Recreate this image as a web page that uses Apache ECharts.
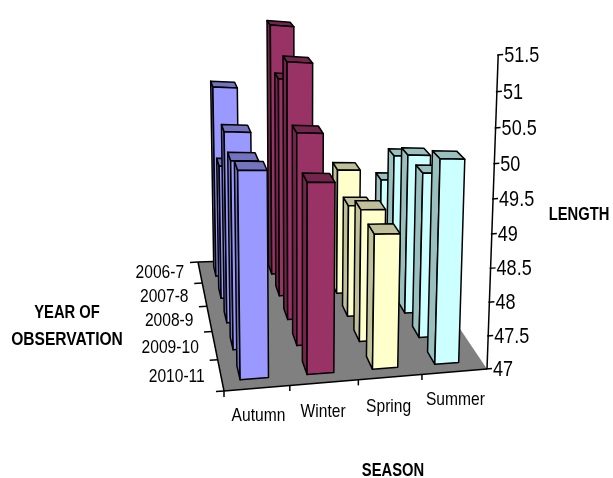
<!DOCTYPE html>
<html><head><meta charset="utf-8">
<style>html,body{margin:0;background:#fff}#c{width:613px;height:478px}</style>
<script src="https://cdn.jsdelivr.net/npm/echarts@6/dist/echarts.min.js"></script>
</head><body><div id="c"></div>
<script>
const seasons=['Autumn','Winter','Spring','Summer'];
const years=['2006-7','2007-8','2008-9','2009-10','2010-11'];
const lengthTicks=[47,47.5,48,48.5,49,49.5,50,50.5,51,51.5];
// Mean length per season, one value per year of observation
const autumn=[50.02,49.05,49.8,49.65,49.79];
const winter=[51.03,50.39,50.83,50.05,49.64];
const spring=[48.1,49.01,48.73,48.97,48.93];
const summer=[48.58,49.25,49.52,49.51,49.98];
const seriesValues=[autumn,winter,spring,summer];
const palette=[['#9999FF','#7373BF'],['#993366','#73264D'],['#FFFFCC','#BFBF99'],['#CCFFFF','#99BFBF']];

// Floor corners and the vertical vanishing point of the 3D view
const FL=[224,391],FR=[487,369],BR=[411,256],BL=[198,262],VP=[301,5584];
function H(u,v){
 const dx1=FR[0]-BR[0],dx2=BL[0]-BR[0],sx=FL[0]-FR[0]+BR[0]-BL[0];
 const dy1=FR[1]-BR[1],dy2=BL[1]-BR[1],sy=FL[1]-FR[1]+BR[1]-BL[1];
 const det=dx1*dy2-dx2*dy1,g=(sx*dy2-dx2*sy)/det,h=(dx1*sy-sx*dy1)/det;
 const a=FR[0]-FL[0]+g*FR[0],b=BL[0]-FL[0]+h*BL[0],d=FR[1]-FL[1]+g*FR[1],e=BL[1]-FL[1]+h*BL[1];
 return [a*u+b*v+FL[0],d*u+e*v+FL[1],g*u+h*v+1];
}
const c0=H(1,0);
const K=(55*c0[2]-c0[1])/(4.5*(VP[1]-55));
// Projects floor position (u,v) and height above the floor to the canvas
function P(u,v,h){const p=H(u,v);const w=p[2]+K*h;return [(p[0]+K*h*VP[0])/w,(p[1]+K*h*VP[1])/w];}

// Bar footprint inside its cell, and small per-season shifts along the front edge
const F0=.25,F1=.65,D0=.3,D1=.75;
const slotShift=[0,-.04,-.045,-.04];
const seasonLabelShift=[[-1,1],[-6,2.5],[-6,3],[-1,1]];
const seasonTickShift=[0,-6,-5,-5];

// Back rows first, right to left, so nearer bars paint over farther ones
const rows=[];
for(let r=0;r<5;r++)for(let c=3;c>=0;c--)rows.push([c,seriesValues[c][r],r]);

const FONT='"Liberation Sans"';
const SX=.82;
function lineEl(a,b){return {type:'line',shape:{x1:a[0],y1:a[1],x2:b[0],y2:b[1]},style:{stroke:'#000',lineWidth:1.5}};}
function textEl(t,x,y,align,size,bold){return {type:'text',x:x,y:y,scaleX:SX,style:{text:t,x:0,y:0,align:align,verticalAlign:'middle',fill:'#000',font:(bold?'bold ':'')+size+'px '+FONT}};}
function frame(){
 const e=[];
 e.push({type:'polygon',shape:{points:[P(0,0,0),P(1,0,0),P(1,1,0),P(0,1,0)]},style:{fill:'#808080'}});
 e.push(lineEl(P(0,0,0),P(0,1,0)),lineEl(P(0,0,0),P(1,0,0)),lineEl(P(1,0,0),P(1,0,4.5)),lineEl(P(0,1,0),P(.1,1,0)));
 for(let i=0;i<=5;i++){const p=P(0,i/5,0);e.push(lineEl([p[0]-8,p[1]+.5],p));}
 for(let i=0;i<=3;i++){const p=P(i/4,0,0);const x=p[0]+seasonTickShift[i];e.push(lineEl([x,p[1]+.4*Math.abs(seasonTickShift[i])/5],[x,p[1]+6]));}
 lengthTicks.forEach(t=>{const p=P(1,0,t-47);e.push(lineEl([p[0]-1,p[1]],[p[0]+5,p[1]-.5]),textEl(String(t),p[0]+6,p[1]+1,'left',22));});
 years.forEach((y,i)=>{const p=P(0,(4-i+.5)/5,0);e.push(textEl(y,p[0]-16,p[1]+(i?2:.5),'right',19));});
 seasons.forEach((n,i)=>{const p=P((i+.5)/4,0,0);e.push(textEl(n,p[0]-1+seasonLabelShift[i][0],p[1]+27+seasonLabelShift[i][1],'center',19));});
 e.push(textEl('YEAR OF',67,313,'center',18,true),textEl('OBSERVATION',67,340,'center',19,true),textEl('LENGTH',579,215,'center',18,true),textEl('SEASON',393,471,'center',18,true));
 return {type:'group',children:e};
}
const chart=echarts.init(document.getElementById('c'),null,{renderer:'canvas'});
chart.setOption({animation:false,
 grid:{left:0,top:0,width:613,height:478},
 xAxis:{type:'value',min:0,max:4,show:false},
 yAxis:{type:'value',min:47,max:51.5,show:false},
 series:[
  {type:'custom',coordinateSystem:'none',z:1,silent:true,data:[[0]],renderItem:()=>frame()},
  {type:'custom',coordinateSystem:'cartesian2d',z:2,silent:true,clip:false,encode:{x:0,y:1},data:rows,
   renderItem:(params,api)=>{
    const c=api.value(0),val=api.value(1),r=api.value(2);
    const ux0=api.coord([c+slotShift[c]+F0,47])[0]/613,ux1=api.coord([c+slotShift[c]+F1,47])[0]/613;
    const h=(478-api.coord([0,val])[1])/478*4.5;
    const v0=(4-r+D0)/5,v1=(4-r+D1)/5;
    const col=palette[c];
    const st=(f)=>({fill:f,stroke:'#000',lineWidth:1.5,lineJoin:'round'});
    const A=P(ux0,v0,0),B=P(ux1,v0,0),C=P(ux1,v0,h),D=P(ux0,v0,h),E=P(ux0,v1,0),G=P(ux0,v1,h),I=P(ux1,v1,h);
    return {type:'group',children:[
     {type:'polygon',shape:{points:[E,A,D,G]},style:st(col[1])},
     {type:'polygon',shape:{points:[G,D,C,I]},style:st(col[1])},
     {type:'polygon',shape:{points:[A,B,C,D]},style:st(col[0])}
    ]};
   }}
 ]});
</script></body></html>
